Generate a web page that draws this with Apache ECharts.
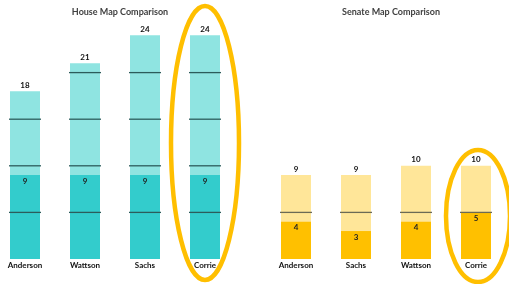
<!DOCTYPE html>
<html>
<head>
<meta charset="utf-8">
<script src="https://cdn.jsdelivr.net/npm/echarts@6/dist/echarts.min.js"></script>
<style>
  html, body { margin: 0; padding: 0; background: #fff; }
  #main { width: 509px; height: 284px; }
</style>
</head>
<body>
<div id="main"></div>
<script>
const houseNames = ['Anderson', 'Wattson', 'Sachs', 'Corrie'];
const houseTotal = [18, 21, 24, 24];
const houseDark = [9, 9, 9, 9];

const senateNames = ['Anderson', 'Sachs', 'Wattson', 'Corrie'];
const senateTotal = [9, 9, 10, 10];
const senateDark = [4, 3, 4, 5];

const step = 5;
const font = 'Lato, "Liberation Sans", sans-serif';

// horizontal marks every 5 units inside each bar
function levels(totals) {
  const out = [];
  totals.forEach((t, i) => {
    for (let l = step; l < t; l += step) out.push([i, l]);
  });
  return out;
}

function lineSeries(idx, totals, color) {
  return {
    type: 'custom',
    xAxisIndex: idx, yAxisIndex: idx,
    z: 10,
    silent: true,
    data: levels(totals),
    renderItem: (params, api) => {
      const p = api.coord([api.value(0), api.value(1)]);
      const w = api.size([1, 0])[0] * 0.5 + 2;
      return {
        type: 'line',
        shape: { x1: p[0] - w / 2, y1: p[1], x2: p[0] + w / 2, y2: p[1] },
        style: { stroke: color, lineWidth: 1.3 }
      };
    }
  };
}

function barPair(idx, totals, darks, light, dark) {
  return [
    {
      type: 'bar', xAxisIndex: idx, yAxisIndex: idx,
      data: totals, barWidth: '50%', barGap: '-100%',
      itemStyle: { color: light },
      label: { show: true, position: 'top', distance: 2, fontFamily: font, fontWeight: 'bold', fontSize: 8, color: '#111' }
    },
    {
      type: 'bar', xAxisIndex: idx, yAxisIndex: idx,
      data: darks, barWidth: '50%', barGap: '-100%',
      itemStyle: { color: dark },
      label: { show: true, position: 'insideTop', distance: 2, fontFamily: font, fontWeight: 'bold', fontSize: 8, color: '#222' }
    }
  ];
}

const chart = echarts.init(document.getElementById('main'));

const xBase = {
  type: 'category',
  axisLine: { show: false }, axisTick: { show: false },
  axisLabel: { margin: 2, fontFamily: font, fontWeight: 'bold', fontSize: 8, color: '#111', interval: 0 }
};
const yBase = { type: 'value', min: 0, max: 25, interval: 5, show: false, splitLine: { show: false } };

chart.setOption({
  backgroundColor: '#fff',
  animation: false,
  title: [
    { text: 'House Map Comparison', left: 115, top: 3, textAlign: 'center',
      textStyle: { fontFamily: font, fontWeight: 'bold', fontSize: 9, color: '#404040' } },
    { text: 'Senate Map Comparison', left: 386, top: 3, textAlign: 'center',
      textStyle: { fontFamily: font, fontWeight: 'bold', fontSize: 9, color: '#404040' } }
  ],
  grid: [
    { left: -5, width: 240, top: 26, bottom: 25, outerBoundsMode: 'none', containLabel: false },
    { left: 266, width: 240, top: 26, bottom: 25, outerBoundsMode: 'none', containLabel: false }
  ],
  xAxis: [
    Object.assign({ gridIndex: 0, data: houseNames }, xBase),
    Object.assign({ gridIndex: 1, data: senateNames }, xBase)
  ],
  yAxis: [
    Object.assign({ gridIndex: 0 }, yBase),
    Object.assign({ gridIndex: 1 }, yBase)
  ],
  series: [
    ...barPair(0, houseTotal, houseDark, '#8fe4e1', '#33cccc'),
    lineSeries(0, houseTotal, '#2c5c5b'),
    ...barPair(1, senateTotal, senateDark, '#ffe699', '#ffc000'),
    lineSeries(1, senateTotal, '#6b6a55')
  ]
});

// orange rings around Corrie in both charts
const hc = chart.convertToPixel({ gridIndex: 0 }, ['Corrie', 0]);
const sc = chart.convertToPixel({ gridIndex: 1 }, ['Corrie', 0]);
chart.setOption({
  graphic: [
    { type: 'ellipse', z: 100, shape: { cx: hc[0], cy: 143, rx: 34, ry: 137 },
      style: { fill: null, stroke: '#ffbf00', lineWidth: 4.5 } },
    { type: 'ellipse', z: 100, shape: { cx: sc[0] + 2, cy: 216, rx: 32, ry: 66 },
      style: { fill: null, stroke: '#ffbf00', lineWidth: 4.5 } }
  ]
});
</script>
</body>
</html>
